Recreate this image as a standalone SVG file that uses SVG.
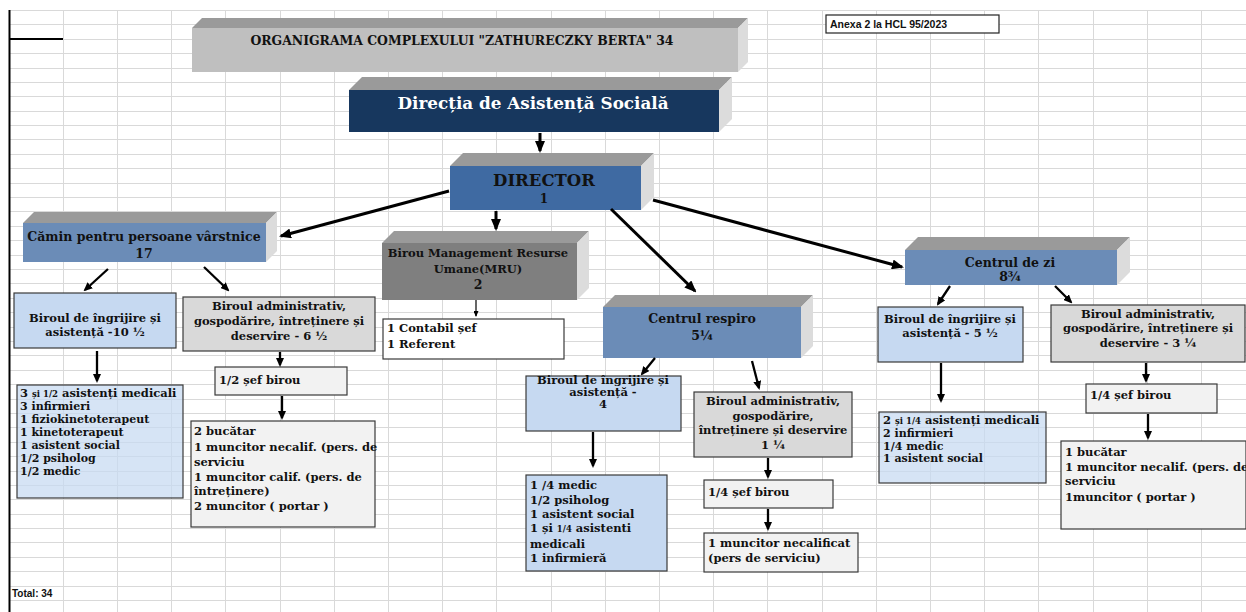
<svg xmlns="http://www.w3.org/2000/svg" width="1246" height="612" viewBox="0 0 1246 612">
<style>
.grid{stroke:#d9d9d9;stroke-width:1;fill:none}
.t{font-family:"DejaVu Serif","Liberation Serif",serif;font-weight:bold;fill:#111}
.h{font-size:11.5px;text-anchor:middle}
.s{font-size:11.5px}
.s2{font-size:11px}
.sm{font-size:8.5px}
.top{fill:#9a9a9a}
.side{fill:#dcdcdc}
.box{stroke:#3a3a3a;stroke-width:1.2}
.blue{fill:#c6d9f1}
.blue2{fill:#c6d9f1;fill-opacity:0.72}
.gray{fill:#d9d9d9}
.light{fill:#f2f2f2}
.cube{fill:#6b8cb7}
.c{stroke:#000;fill:none}
.thick{stroke-width:3}
.med{stroke-width:2.3}
.a{font-family:"Liberation Sans",Arial,sans-serif;font-weight:bold;fill:#111}
</style>
<defs>
<marker id="aL" markerUnits="userSpaceOnUse" markerWidth="12" markerHeight="10" viewBox="0 0 12 10" refX="10" refY="5" orient="auto"><path d="M0,0 L12,5 L0,10 z" fill="#000"/></marker>
<marker id="aM" markerUnits="userSpaceOnUse" markerWidth="9" markerHeight="8" viewBox="0 0 9 8" refX="7" refY="4" orient="auto"><path d="M0,0 L9,4 L0,8 z" fill="#000"/></marker>
<marker id="aS" markerUnits="userSpaceOnUse" markerWidth="6" markerHeight="5" viewBox="0 0 6 5" refX="5" refY="2.5" orient="auto"><path d="M0,0 L6,2.5 L0,5 z" fill="#000"/></marker>
</defs>
<rect width="1246" height="612" fill="#fff"/>
<path class="grid" d="M9.5,10V612M63.5,10V612M117.5,10V612M171.5,10V612M225.5,10V612M280.5,10V612M334.5,10V612M388.5,10V612M442.5,10V612M496.5,10V612M551.5,10V612M605.5,10V612M659.5,10V612M713.5,10V612M767.5,10V612M822.5,10V612M876.5,10V612M930.5,10V612M984.5,10V612M1038.5,10V612M1093.5,10V612M1147.5,10V612M1201.5,10V612
M9,10.5H1246M9,24.5H1246M9,39.5H1246M9,53.5H1246M9,68.5H1246M9,82.5H1246M9,96.5H1246M9,111.5H1246M9,125.5H1246M9,139.5H1246M9,154.5H1246M9,168.5H1246M9,183.5H1246M9,197.5H1246M9,211.5H1246M9,226.5H1246M9,240.5H1246M9,255.5H1246M9,269.5H1246M9,283.5H1246M9,298.5H1246M9,312.5H1246M9,327.5H1246M9,341.5H1246M9,355.5H1246M9,370.5H1246M9,384.5H1246M9,399.5H1246M9,413.5H1246M9,427.5H1246M9,442.5H1246M9,456.5H1246M9,471.5H1246M9,485.5H1246M9,499.5H1246M9,514.5H1246M9,528.5H1246M9,542.5H1246M9,557.5H1246M9,571.5H1246M9,586.5H1246M9,600.5H1246"/>
<path d="M9.5,10V612M9,39H63" stroke="#000" stroke-width="2" fill="none"/>

<g id="title">
<polygon class="top" points="192,28 202,18 748,18 738,28"/>
<polygon class="side" points="738,28 748,18 748,62 738,72"/>
<rect x="192" y="28" width="546" height="44" fill="#bfbfbf"/>
<text class="t" x="462" y="45" font-size="12.5" text-anchor="middle" textLength="423" lengthAdjust="spacingAndGlyphs">ORGANIGRAMA COMPLEXULUI "ZATHURECZKY BERTA" 34</text>
</g>

<g id="directia">
<polygon class="top" points="349,90 362,77 732,77 719,90"/>
<polygon class="side" points="719,90 732,77 732,119 719,132"/>
<rect x="349" y="90" width="370" height="42" fill="#17375e"/>
<text class="t" x="533" y="109" font-size="16" text-anchor="middle" style="fill:#fff" textLength="271" lengthAdjust="spacingAndGlyphs">Direcția de Asistență Socială</text>
</g>

<g id="director">
<polygon class="top" points="450,166 463,153 654,153 641,166"/>
<polygon class="side" points="641,166 654,153 654,197 641,210"/>
<rect x="450" y="166" width="191" height="44" fill="#3f6aa2"/>
<text class="t" x="544" y="186" font-size="16.5" text-anchor="middle">DIRECTOR</text>
<text class="t" x="544" y="203" font-size="12" text-anchor="middle">1</text>
</g>

<g id="camin">
<polygon class="top" points="23,223 34,212 277,212 266,223"/>
<polygon class="side" points="266,223 277,212 277,251 266,262"/>
<rect class="cube" x="23" y="223" width="243" height="39"/>
<text class="t" x="144" y="241" font-size="12.5" text-anchor="middle">Cămin pentru persoane vârstnice</text>
<text class="t" x="144" y="258" font-size="12.5" text-anchor="middle">17</text>
</g>

<g id="camin-ingrijire">
<rect class="box blue" x="14" y="293" width="162" height="55"/>
<text class="t h" x="95" y="322">Biroul de îngrijire și</text>
<text class="t h" x="95" y="336">asistență -10 ½</text>
</g>

<g id="camin-admin">
<rect class="box gray" x="183" y="297" width="192" height="54"/>
<text class="t h" x="279" y="310">Biroul administrativ,</text>
<text class="t h" x="279" y="325">gospodărire, întreținere și</text>
<text class="t h" x="279" y="340">deservire - 6 ½</text>
</g>

<g id="camin-ingrijire-staff">
<rect class="box blue2" x="17" y="385" width="166" height="113"/>
<text class="t s" x="20" y="397">3 <tspan class="sm">și 1/2</tspan> asistenți medicali</text>
<text class="t s2" x="20" y="410">3 infirmieri</text>
<text class="t s2" x="20" y="423">1 fiziokinetoterapeut</text>
<text class="t s2" x="20" y="436">1 kinetoterapeut</text>
<text class="t s2" x="20" y="449">1 asistent social</text>
<text class="t s2" x="20" y="462">1/2 psiholog</text>
<text class="t s2" x="20" y="475">1/2 medic</text>
</g>

<g id="camin-sef">
<rect class="box light" x="215" y="367" width="132" height="28"/>
<text class="t s" x="219" y="384">1/2 șef birou</text>
</g>

<g id="camin-admin-staff">
<rect class="box light" x="191" y="421" width="184" height="106"/>
<text class="t s" x="194" y="435">2 bucătar</text>
<text class="t s" x="194" y="451">1 muncitor necalif. (pers. de</text>
<text class="t s" x="194" y="466">serviciu</text>
<text class="t s" x="194" y="481">1 muncitor calif. (pers. de</text>
<text class="t s" x="194" y="495">întreținere)</text>
<text class="t s" x="194" y="510">2 muncitor ( portar )</text>
</g>

<g id="mru">
<polygon class="top" points="382,243 394,231 589,231 577,243"/>
<polygon class="side" points="577,243 589,231 589,288 577,300"/>
<rect x="382" y="243" width="195" height="57" fill="#7f7f7f"/>
<text class="t h" x="478" y="257">Birou Management Resurse</text>
<text class="t h" x="478" y="273">Umane(MRU)</text>
<text class="t" x="478" y="289" font-size="12.5" text-anchor="middle">2</text>
</g>

<g id="mru-staff">
<rect class="box" x="383" y="319" width="181" height="40" fill="#fff"/>
<text class="t s" x="387" y="332">1 Contabil șef</text>
<text class="t s" x="387" y="348">1 Referent</text>
</g>

<g id="respiro">
<polygon class="top" points="603,307 615,295 813,295 801,307"/>
<polygon class="side" points="801,307 813,295 813,346 801,358"/>
<rect class="cube" x="603" y="307" width="198" height="51"/>
<text class="t" x="702" y="323" font-size="12.5" text-anchor="middle">Centrul respiro</text>
<text class="t" x="702" y="340" font-size="12.5" text-anchor="middle">5¼</text>
</g>

<g id="respiro-ingrijire">
<rect class="box blue" x="526" y="376" width="155" height="55"/>
<text class="t h" x="603" y="384">Biroul de îngrijire și</text>
<text class="t h" x="603" y="396">asistență -</text>
<text class="t h" x="603" y="408">4</text>
</g>

<g id="respiro-admin">
<rect class="box gray" x="694" y="392" width="158" height="65"/>
<text class="t h" x="773" y="405">Biroul administrativ,</text>
<text class="t h" x="773" y="420">gospodărire,</text>
<text class="t h" x="773" y="434">întreținere și deservire</text>
<text class="t h" x="773" y="449">1 ¼</text>
</g>

<g id="respiro-staff">
<rect class="box blue" x="526" y="475" width="141" height="96"/>
<text class="t s" x="530" y="489">1 /4 medic</text>
<text class="t s" x="530" y="504">1/2 psiholog</text>
<text class="t s" x="530" y="518">1 asistent social</text>
<text class="t s" x="530" y="532">1 și <tspan class="sm">1/4</tspan> asistenti</text>
<text class="t s" x="530" y="548">medicali</text>
<text class="t s" x="530" y="562">1 infirmieră</text>
</g>

<g id="respiro-sef">
<rect class="box light" x="704" y="480" width="129" height="28"/>
<text class="t s" x="708" y="496">1/4 șef birou</text>
</g>

<g id="respiro-muncitor">
<rect class="box light" x="704" y="533" width="154" height="39"/>
<text class="t s" x="708" y="547">1 muncitor necalificat</text>
<text class="t s" x="708" y="562">(pers de serviciu)</text>
</g>

<g id="zi">
<polygon class="top" points="905,250 918,237 1130,237 1117,250"/>
<polygon class="side" points="1117,250 1130,237 1130,272 1117,285"/>
<rect class="cube" x="905" y="250" width="212" height="35"/>
<text class="t" x="1010" y="267" font-size="12.5" text-anchor="middle">Centrul de zi</text>
<text class="t" x="1010" y="281" font-size="12.5" text-anchor="middle">8¾</text>
</g>

<g id="zi-ingrijire">
<rect class="box blue" x="878" y="307" width="145" height="55"/>
<text class="t h" x="950" y="323">Biroul de îngrijire și</text>
<text class="t h" x="950" y="337">asistență - 5 ½</text>
</g>

<g id="zi-admin">
<rect class="box gray" x="1051" y="305" width="194" height="57"/>
<text class="t h" x="1148" y="318">Biroul administrativ,</text>
<text class="t h" x="1148" y="332">gospodărire, întreținere și</text>
<text class="t h" x="1148" y="347">deservire - 3 ¼</text>
</g>

<g id="zi-staff">
<rect class="box blue2" x="879" y="412" width="167" height="71"/>
<text class="t s" x="883" y="424">2 <tspan class="sm">și 1/4</tspan> asistenți medicali</text>
<text class="t s2" x="883" y="437">2 infirmieri</text>
<text class="t s2" x="883" y="449.5">1/4 medic</text>
<text class="t s2" x="883" y="462">1 asistent social</text>
</g>

<g id="zi-sef">
<rect class="box light" x="1086" y="384" width="131" height="29"/>
<text class="t s" x="1090" y="399">1/4 șef birou</text>
</g>

<g id="zi-admin-staff">
<rect class="box light" x="1061" y="441" width="185" height="88"/>
<text class="t s" x="1065" y="456">1 bucătar</text>
<text class="t s" x="1065" y="471">1 muncitor necalif. (pers. de</text>
<text class="t s" x="1065" y="485">serviciu</text>
<text class="t s" x="1065" y="501">1muncitor ( portar )</text>
</g>

<g id="anexa">
<rect x="826" y="15" width="173" height="18" fill="#fff" stroke="#222" stroke-width="1.2"/>
<text class="a" x="830" y="28" font-size="10.5">Anexa 2 la HCL 95/2023</text>
</g>

<g id="total">
<text class="a" x="12" y="597" font-size="10">Total: 34</text>
</g>

<g id="connectors">
<path class="c thick" d="M540,133 V151" marker-end="url(#aL)"/>
<path class="c thick" d="M449,191 L281,236" marker-end="url(#aL)"/>
<path class="c thick" d="M496,211 V229" marker-end="url(#aL)"/>
<path class="c thick" d="M611,209 L695,291" marker-end="url(#aL)"/>
<path class="c thick" d="M653,200 L902,267" marker-end="url(#aL)"/>
<path class="c med" d="M108,269 L85,290" marker-end="url(#aM)"/>
<path class="c med" d="M204,267 L228,290" marker-end="url(#aM)"/>
<path class="c med" d="M97,351 V381" marker-end="url(#aM)"/>
<path class="c med" d="M280,352 V365" marker-end="url(#aM)"/>
<path class="c med" d="M282,396 V418" marker-end="url(#aM)"/>
<path class="c" stroke-width="1.2" d="M476,300 V316" marker-end="url(#aS)"/>
<path class="c med" d="M655,358 L642,374" marker-end="url(#aM)"/>
<path class="c med" d="M752,361 L759,388" marker-end="url(#aM)"/>
<path class="c med" d="M593,432 V466" marker-end="url(#aM)"/>
<path class="c med" d="M768,458 V477" marker-end="url(#aM)"/>
<path class="c med" d="M768,509 V529" marker-end="url(#aM)"/>
<path class="c med" d="M950,286 L938,304" marker-end="url(#aM)"/>
<path class="c med" d="M1055,286 L1071,302" marker-end="url(#aM)"/>
<path class="c med" d="M941,363 V401" marker-end="url(#aM)"/>
<path class="c med" d="M1146,363 V381" marker-end="url(#aM)"/>
<path class="c med" d="M1148,414 V438" marker-end="url(#aM)"/>
</g>
</svg>
